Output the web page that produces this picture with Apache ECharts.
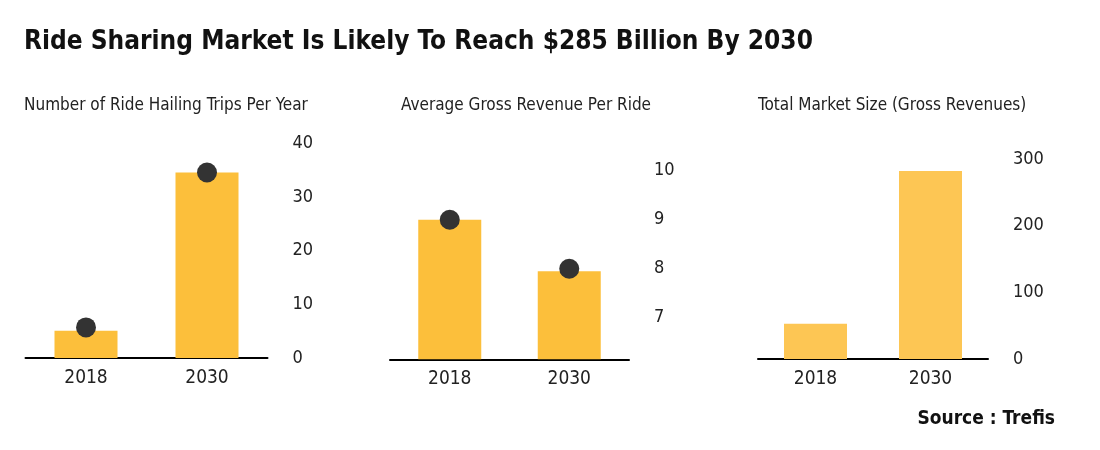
<!DOCTYPE html>
<html>
<head>
<meta charset="utf-8">
<script src="https://cdn.jsdelivr.net/npm/echarts@6/dist/echarts.min.js"></script>
<style>
html,body{margin:0;padding:0;background:#fff;}
#chart{width:1100px;height:450px;}
</style>
</head>
<body>
<div id="chart"></div>
<script>
const categories = ['2018', '2030'];
const tripsBars = [5.1, 34.6];
const tripsDots = [5.7, 34.6];
const revenueBars = [9.0, 7.95];
const revenueDots = [9.0, 8.0];
const marketBars = [53, 282];
const tripsTicks = [0, 10, 20, 30, 40];
const revenueTicks = [7, 8, 9, 10];
const marketTicks = [0, 100, 200, 300];

const FONT = '"DejaVu Sans Condensed", "Liberation Sans Narrow", sans-serif';
const BAR = '#FCBF3B';
const BAR3 = '#FDC654';
const DOT = '#333333';

const chart = echarts.init(document.getElementById('chart'), null, {renderer: 'canvas'});

function xAx(gi) {
  return {
    type: 'category', gridIndex: gi, data: categories,
    axisLine: {show: true, lineStyle: {color: '#000', width: 2}},
    axisTick: {show: false},
    axisLabel: {fontFamily: FONT, fontSize: 19, color: '#222', margin: 10.5, lineHeight: 19}
  };
}
function yAx(gi, min, max, ticks) {
  return {
    type: 'value', gridIndex: gi, position: 'right', min: min, max: max,
    axisLine: {show: false}, axisTick: {show: false}, splitLine: {show: false},
    axisLabel: {fontFamily: FONT, fontSize: 18, color: '#222', margin: 25, align: 'left', customValues: ticks}
  };
}
function sub(text, left) {
  return {text: text, left: left, top: 97, padding: 0,
    textStyle: {fontFamily: FONT, fontSize: 17, fontWeight: 'normal', color: '#222', lineHeight: 17}};
}

const option = {
  backgroundColor: '#fff',
  animation: false,
  title: [
    {text: 'Ride Sharing Market Is Likely To Reach $285 Billion By 2030', left: 24, top: 29, padding: 0,
     textStyle: {fontFamily: FONT, fontSize: 26, fontWeight: 'bold', color: '#111', lineHeight: 26}},
    sub('Number of Ride Hailing Trips Per Year', 24),
    sub('Average Gross Revenue Per Ride', 401),
    sub('Total Market Size (Gross Revenues)', 758),
    {text: 'Source : Trefis', right: 45, top: 410, padding: 0,
     textStyle: {fontFamily: FONT, fontSize: 19, fontWeight: 'bold', color: '#111', lineHeight: 19}}
  ],
  grid: [
    {left: 25.5, width: 242, top: 143.5, height: 214.5, outerBoundsMode: 'none'},
    {left: 390, width: 239, top: 146.3, height: 213, outerBoundsMode: 'none'},
    {left: 758, width: 230, top: 159, height: 200, outerBoundsMode: 'none'}
  ],
  xAxis: [xAx(0), xAx(1), xAx(2)],
  yAxis: [yAx(0, 0, 40, tripsTicks), yAx(1, 6.15, 10.5, revenueTicks), yAx(2, 0, 300, marketTicks)],
  series: [
    {type: 'bar', xAxisIndex: 0, yAxisIndex: 0, data: tripsBars, barWidth: 63, itemStyle: {color: BAR}},
    {type: 'scatter', xAxisIndex: 0, yAxisIndex: 0, data: tripsDots, symbolSize: 20, itemStyle: {color: DOT, opacity: 1}, z: 5},
    {type: 'bar', xAxisIndex: 1, yAxisIndex: 1, data: revenueBars, barWidth: 63, itemStyle: {color: BAR}},
    {type: 'scatter', xAxisIndex: 1, yAxisIndex: 1, data: revenueDots, symbolSize: 20, itemStyle: {color: DOT, opacity: 1}, z: 5},
    {type: 'bar', xAxisIndex: 2, yAxisIndex: 2, data: marketBars, barWidth: 63, itemStyle: {color: BAR3}}
  ]
};
chart.setOption(option);
</script>
</body>
</html>
